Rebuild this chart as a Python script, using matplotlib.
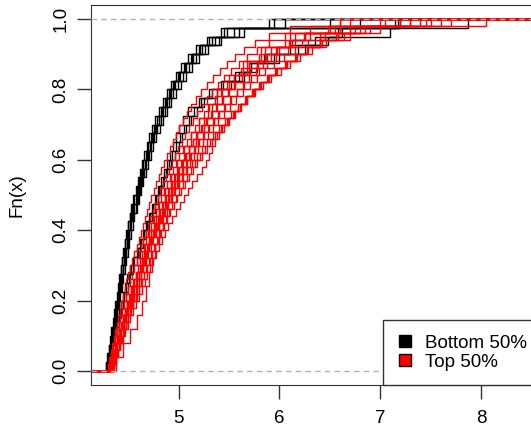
import numpy as np
import matplotlib
matplotlib.use("Agg")
import matplotlib.pyplot as plt
from matplotlib.lines import Line2D

plt.rcParams['font.family'] = ['Liberation Sans', 'DejaVu Sans']

# sample values per run, bottom half (black)
bottom_a = [4.29, 4.31, 4.32, 4.34, 4.35, 4.36, 4.37, 4.38, 4.40, 4.41,
            4.42, 4.43, 4.44, 4.46, 4.47, 4.49, 4.50, 4.52, 4.54, 4.56,
            4.58, 4.60, 4.62, 4.64, 4.67, 4.69, 4.72, 4.75, 4.78, 4.82,
            4.86, 4.90, 4.94, 4.99, 5.05, 5.12, 5.21, 5.33, 5.48, 6.05]
bottom_b = [4.28, 4.30, 4.31, 4.33, 4.34, 4.36, 4.37, 4.39, 4.40, 4.42,
            4.43, 4.45, 4.46, 4.48, 4.49, 4.51, 4.52, 4.54, 4.56, 4.58,
            4.60, 4.62, 4.64, 4.66, 4.69, 4.71, 4.74, 4.77, 4.80, 4.84,
            4.88, 4.92, 4.96, 5.01, 5.07, 5.14, 5.23, 5.36, 5.55, 6.50]
bottom_c = [4.30, 4.31, 4.33, 4.34, 4.36, 4.37, 4.38, 4.40, 4.41, 4.43,
            4.44, 4.45, 4.47, 4.48, 4.50, 4.51, 4.53, 4.55, 4.57, 4.59,
            4.61, 4.63, 4.65, 4.67, 4.70, 4.72, 4.75, 4.78, 4.82, 4.86,
            4.90, 4.94, 4.99, 5.04, 5.10, 5.17, 5.26, 5.40, 5.60, 7.15]
bottom_d = [4.29, 4.30, 4.32, 4.33, 4.35, 4.36, 4.38, 4.39, 4.41, 4.42,
            4.43, 4.45, 4.46, 4.47, 4.49, 4.50, 4.52, 4.53, 4.55, 4.57,
            4.59, 4.61, 4.63, 4.66, 4.68, 4.71, 4.73, 4.76, 4.80, 4.83,
            4.87, 4.91, 4.95, 5.00, 5.06, 5.13, 5.20, 5.30, 5.45, 5.95]
bottom_e = [4.31, 4.32, 4.34, 4.35, 4.37, 4.38, 4.39, 4.41, 4.42, 4.44,
            4.45, 4.47, 4.48, 4.50, 4.51, 4.53, 4.55, 4.56, 4.58, 4.60,
            4.62, 4.64, 4.67, 4.69, 4.72, 4.74, 4.77, 4.81, 4.84, 4.88,
            4.92, 4.97, 5.02, 5.07, 5.13, 5.20, 5.29, 5.42, 5.65, 6.80]
bottom_f = [4.28, 4.29, 4.31, 4.32, 4.33, 4.35, 4.36, 4.37, 4.39, 4.40,
            4.41, 4.43, 4.44, 4.45, 4.47, 4.48, 4.50, 4.52, 4.53, 4.55,
            4.57, 4.59, 4.61, 4.63, 4.65, 4.68, 4.70, 4.73, 4.76, 4.80,
            4.84, 4.88, 4.92, 4.97, 5.02, 5.09, 5.17, 5.28, 5.42, 5.90]
bottom_g = [4.30, 4.32, 4.34, 4.35, 4.37, 4.39, 4.41, 4.43, 4.45, 4.47,
            4.49, 4.52, 4.55, 4.58, 4.61, 4.64, 4.67, 4.70, 4.73, 4.76,
            4.79, 4.82, 4.85, 4.88, 4.91, 4.94, 4.97, 5.00, 5.04, 5.09,
            5.20, 5.33, 5.44, 5.60, 5.78, 6.00, 6.18, 6.40, 6.58, 7.87]
bottom_h = [4.31, 4.33, 4.35, 4.37, 4.39, 4.41, 4.43, 4.45, 4.48, 4.50,
            4.52, 4.55, 4.58, 4.61, 4.64, 4.67, 4.70, 4.73, 4.76, 4.79,
            4.82, 4.85, 4.88, 4.92, 4.96, 5.00, 5.03, 5.07, 5.12, 5.18,
            5.25, 5.38, 5.52, 5.65, 5.72, 5.95, 6.25, 6.48, 6.62, 7.18]
bottom_i = [4.29, 4.31, 4.33, 4.35, 4.37, 4.39, 4.41, 4.43, 4.46, 4.48,
            4.51, 4.53, 4.56, 4.59, 4.62, 4.65, 4.68, 4.71, 4.74, 4.77,
            4.80, 4.84, 4.87, 4.90, 4.93, 4.97, 5.01, 5.05, 5.10, 5.15,
            5.22, 5.30, 5.42, 5.56, 5.70, 5.85, 6.10, 6.35, 7.10, 7.20]

# sample values per run, top half (red)
top_a = [4.32, 4.34, 4.36, 4.38, 4.40, 4.41, 4.43, 4.45, 4.47, 4.49,
         4.51, 4.53, 4.55, 4.57, 4.59, 4.61, 4.63, 4.65, 4.67, 4.69,
         4.72, 4.74, 4.77, 4.79, 4.82, 4.85, 4.88, 4.91, 4.94, 4.97,
         5.00, 5.04, 5.08, 5.12, 5.16, 5.20, 5.25, 5.30, 5.36, 5.42,
         5.48, 5.55, 5.62, 5.70, 5.80, 5.92, 6.05, 6.25, 6.55, 7.05]
top_b = [4.33, 4.35, 4.37, 4.39, 4.41, 4.43, 4.45, 4.47, 4.49, 4.52,
         4.54, 4.56, 4.58, 4.60, 4.62, 4.65, 4.67, 4.69, 4.72, 4.74,
         4.77, 4.80, 4.83, 4.86, 4.89, 4.92, 4.95, 4.99, 5.03, 5.07,
         5.11, 5.15, 5.19, 5.24, 5.29, 5.34, 5.39, 5.45, 5.51, 5.58,
         5.65, 5.72, 5.80, 5.88, 5.97, 6.08, 6.22, 6.40, 6.70, 7.40]
top_c = [4.35, 4.38, 4.40, 4.42, 4.45, 4.47, 4.50, 4.52, 4.55, 4.57,
         4.60, 4.63, 4.66, 4.68, 4.71, 4.74, 4.77, 4.80, 4.83, 4.86,
         4.89, 4.93, 4.97, 5.01, 5.05, 5.09, 5.13, 5.18, 5.23, 5.27,
         5.30, 5.33, 5.36, 5.40, 5.45, 5.50, 5.56, 5.62, 5.68, 5.75,
         5.82, 5.90, 5.98, 6.07, 6.17, 6.28, 6.42, 6.70, 7.00, 7.45]
top_d = [4.31, 4.33, 4.35, 4.37, 4.39, 4.41, 4.44, 4.46, 4.48, 4.50,
         4.53, 4.55, 4.57, 4.60, 4.62, 4.64, 4.67, 4.69, 4.71, 4.74,
         4.76, 4.79, 4.81, 4.84, 4.87, 4.90, 4.93, 4.96, 5.00, 5.03,
         5.07, 5.10, 5.14, 5.18, 5.22, 5.27, 5.32, 5.37, 5.43, 5.49,
         5.56, 5.63, 5.71, 5.79, 5.88, 5.98, 6.12, 6.30, 6.60, 7.60]
top_e = [4.36, 4.38, 4.40, 4.42, 4.44, 4.46, 4.48, 4.50, 4.52, 4.54,
         4.56, 4.58, 4.60, 4.62, 4.64, 4.66, 4.68, 4.70, 4.73, 4.75,
         4.78, 4.81, 4.84, 4.87, 4.90, 4.93, 4.96, 5.00, 5.04, 5.08,
         5.12, 5.16, 5.20, 5.25, 5.30, 5.35, 5.40, 5.46, 5.52, 5.58,
         5.64, 5.70, 5.77, 5.84, 5.92, 6.00, 6.10, 6.25, 6.50, 7.00]
top_f = [4.34, 4.38, 4.42, 4.45, 4.49, 4.53, 4.57, 4.61, 4.66, 4.70,
         4.75, 4.80, 4.86, 4.92, 4.98, 5.05, 5.12, 5.20, 5.29, 5.38,
         5.50, 5.64, 5.82, 6.10, 6.70]
top_g = [4.38, 4.45, 4.52, 4.58, 4.63, 4.67, 4.70, 4.73, 4.76, 4.80,
         4.84, 4.88, 4.93, 4.98, 5.04, 5.10, 5.17, 5.25, 5.33, 5.43,
         5.55, 5.68, 5.86, 6.15, 6.60]
top_h = [4.32, 4.34, 4.36, 4.38, 4.40, 4.42, 4.44, 4.46, 4.49, 4.51,
         4.53, 4.55, 4.58, 4.60, 4.63, 4.65, 4.68, 4.70, 4.73, 4.76,
         4.79, 4.82, 4.85, 4.89, 4.92, 4.96, 5.00, 5.04, 5.08, 5.13,
         5.18, 5.23, 5.28, 5.34, 5.40, 5.46, 5.52, 5.59, 5.66, 5.73,
         5.80, 5.88, 5.96, 6.05, 6.15, 6.27, 6.40, 6.58, 6.85, 7.30]
top_i = [4.30, 4.32, 4.34, 4.35, 4.37, 4.39, 4.41, 4.42, 4.44, 4.46,
         4.48, 4.50, 4.52, 4.54, 4.56, 4.58, 4.60, 4.62, 4.64, 4.67,
         4.69, 4.71, 4.74, 4.76, 4.79, 4.81, 4.84, 4.87, 4.90, 4.93,
         4.96, 4.99, 5.03, 5.06, 5.10, 5.14, 5.18, 5.23, 5.28, 5.33,
         5.39, 5.45, 5.52, 5.60, 5.68, 5.78, 5.90, 6.05, 6.30, 7.20]
top_j = [4.34, 4.36, 4.38, 4.41, 4.43, 4.45, 4.48, 4.50, 4.52, 4.55,
         4.57, 4.60, 4.62, 4.65, 4.67, 4.70, 4.72, 4.75, 4.78, 4.81,
         4.84, 4.87, 4.90, 4.93, 4.97, 5.00, 5.04, 5.08, 5.12, 5.16,
         5.21, 5.26, 5.31, 5.36, 5.42, 5.48, 5.54, 5.61, 5.68, 5.76,
         5.84, 5.92, 6.01, 6.10, 6.20, 6.32, 6.46, 6.64, 6.90, 7.70]
top_k = [4.31, 4.33, 4.35, 4.37, 4.39, 4.41, 4.43, 4.45, 4.47, 4.49,
         4.52, 4.54, 4.56, 4.58, 4.61, 4.63, 4.65, 4.68, 4.70, 4.72,
         4.75, 4.77, 4.80, 4.83, 4.86, 4.89, 4.92, 4.95, 4.99, 5.02,
         5.06, 5.10, 5.14, 5.18, 5.23, 5.28, 5.33, 5.38, 5.44, 5.50,
         5.56, 5.63, 5.70, 5.78, 5.87, 5.97, 6.09, 6.24, 6.48, 8.05]
top_l = [4.33, 4.35, 4.37, 4.39, 4.41, 4.43, 4.46, 4.48, 4.50, 4.53,
         4.55, 4.57, 4.60, 4.62, 4.64, 4.67, 4.69, 4.72, 4.74, 4.77,
         4.80, 4.83, 4.86, 4.89, 4.92, 4.95, 4.99, 5.03, 5.07, 5.11,
         5.15, 5.19, 5.24, 5.29, 5.34, 5.39, 5.45, 5.51, 5.57, 5.64,
         5.71, 5.78, 5.86, 5.95, 6.04, 6.15, 6.28, 6.45, 6.75, 7.30]
top_m = [4.30, 4.31, 4.33, 4.34, 4.36, 4.37, 4.39, 4.40, 4.42, 4.43,
         4.45, 4.47, 4.48, 4.50, 4.52, 4.54, 4.56, 4.58, 4.60, 4.62,
         4.64, 4.66, 4.68, 4.70, 4.72, 4.75, 4.77, 4.80, 4.82, 4.85,
         4.88, 4.91, 4.94, 4.97, 5.00, 5.04, 5.08, 5.12, 5.17, 5.22,
         5.28, 5.34, 5.41, 5.48, 5.56, 5.65, 5.76, 5.90, 6.10, 6.60]
top_n = [4.35, 4.37, 4.39, 4.41, 4.43, 4.46, 4.48, 4.50, 4.53, 4.55,
         4.58, 4.60, 4.63, 4.65, 4.68, 4.71, 4.73, 4.76, 4.79, 4.82,
         4.85, 4.88, 4.91, 4.95, 4.98, 5.02, 5.06, 5.10, 5.14, 5.18,
         5.23, 5.28, 5.33, 5.38, 5.43, 5.49, 5.55, 5.61, 5.67, 5.74,
         5.81, 5.89, 5.97, 6.06, 6.16, 6.27, 6.40, 6.56, 6.80, 7.50]

bottom_runs = [bottom_a, bottom_b, bottom_c, bottom_d, bottom_e,
               bottom_f, bottom_g, bottom_h, bottom_i]
top_runs = [top_a, top_b, top_c, top_d, top_e, top_f, top_g,
            top_h, top_i, top_j, top_k, top_l, top_m, top_n]

legend_labels = ["Bottom 50%", "Top 50%"]
x_ticks = [5, 6, 7, 8]
y_ticks = [0.0, 0.2, 0.4, 0.6, 0.8, 1.0]

XMIN, XMAX = 4.132, 8.601
FS = 13.5


def plot_ecdf(ax, values, color):
    x = np.sort(np.asarray(values, dtype=float))
    n = len(x)
    fx = np.arange(1, n + 1) / n
    xs = np.r_[XMIN - 1, x, XMAX + 1]
    ys = np.r_[0.0, fx, 1.0]
    ax.step(xs, ys, where='post', color=color, lw=1.0)


fig = plt.figure(figsize=(5.31, 4.29), dpi=100)
# plot region runs past the right edge of the canvas
ax = fig.add_axes([91.4 / 531, 44 / 429, 450 / 531, 380 / 429])

for run in bottom_runs:
    plot_ecdf(ax, run, 'black')
for run in top_runs:
    plot_ecdf(ax, run, 'red')

# reference lines at 0 and 1
for h in (0, 1):
    ax.axhline(h, color='#b3b3b3', lw=1.0, ls=(0, (4, 3)), zorder=5)

ax.set_xlim(XMIN, XMAX)
ax.set_ylim(-0.04, 1.04)
ax.set_xticks(x_ticks)
ax.set_xticklabels([str(t) for t in x_ticks], fontsize=FS)
ax.set_yticks(y_ticks)
ax.set_yticklabels([f"{t:.1f}" for t in y_ticks], fontsize=FS,
                   rotation=90, va='center')
ax.tick_params(axis='both', length=10, width=1, color='#333333')
ax.tick_params(axis='x', pad=8)
ax.tick_params(axis='y', pad=6)
for s in ax.spines.values():
    s.set_color('#333333')
ax.set_ylabel("Fn(x)", fontsize=FS, labelpad=19)

handles = [Line2D([], [], marker='s', ls='none', markersize=9,
                  markerfacecolor=c, markeredgecolor='black')
           for c in ('black', 'red')]
leg = ax.legend(handles, legend_labels, loc='lower right',
                bbox_to_anchor=(1.0, 0.0), borderaxespad=0, fontsize=FS,
                fancybox=False, framealpha=1, edgecolor='#333333',
                handlelength=0.8, handletextpad=0.7, labelspacing=0.12,
                borderpad=0.75)
leg.get_frame().set_linewidth(1.0)
leg.set_zorder(10)

fig.savefig("out.png", dpi=100)
